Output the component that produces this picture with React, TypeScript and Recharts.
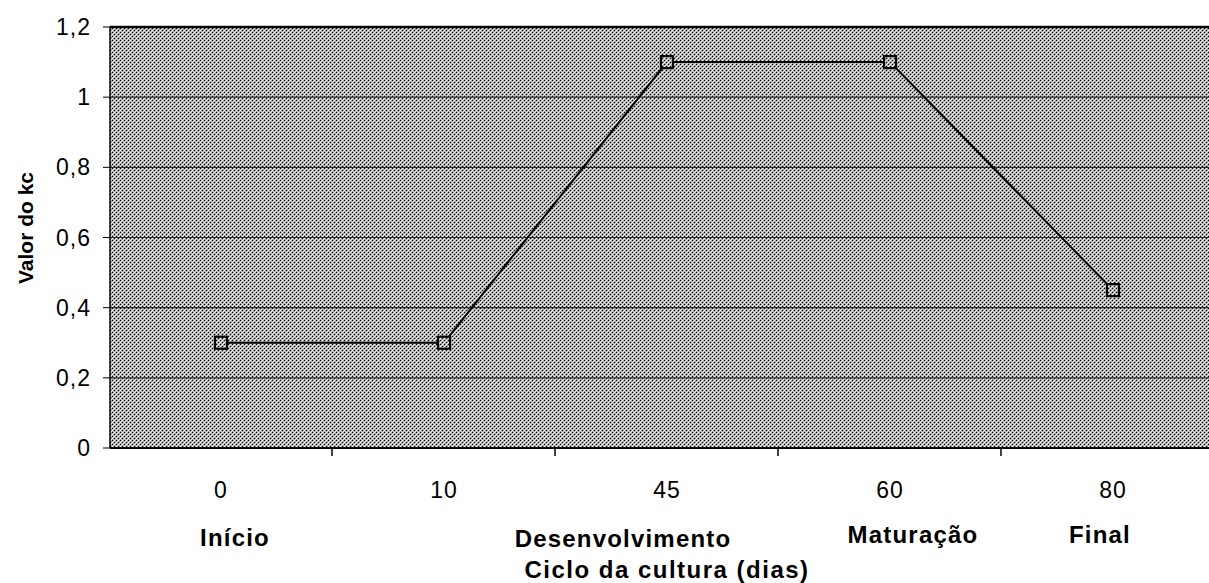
import React from "react"
import { LineChart, Line, XAxis, YAxis, CartesianGrid, ReferenceLine } from "recharts"

// Kc curve over the crop cycle
const days = ["0", "10", "45", "60", "80"]
const kc = [0.3, 0.3, 1.1, 1.1, 0.45]
const stages = ["Início", "", "Desenvolvimento", "Maturação", "Final"]
const yTicks = [0, 0.2, 0.4, 0.6, 0.8, 1, 1.2]

const data = days.map((d, i) => ({ day: d, kc: kc[i], stage: stages[i] }))

const FONT = "'Liberation Sans', Arial, sans-serif"

// half of the category step, used for the padding and the between-category ticks
const HALF_STEP = 111

// horizontal nudges for the stage captions under the day numbers
const stageShift = [14, 0, -44, 23, -13]
const stageDrop = [98, 98, 99, 95, 95]

function DayTick(props: any) {
  const { x, y, payload } = props
  const i = payload.index
  return (
    <g>
      <line x1={x + HALF_STEP} y1={y} x2={x + HALF_STEP} y2={y + 8} stroke="#000" strokeWidth={1.5} />
      <text x={x} y={y + 50} textAnchor="middle" fontSize={23} letterSpacing={1} fontFamily={FONT} fill="#000">
        {payload.value}
      </text>
      {stages[i] ? (
        <text
          x={x + stageShift[i]}
          y={y + stageDrop[i]}
          textAnchor="middle"
          fontSize={24}
          fontWeight="bold"
          letterSpacing={1.2}
          fontFamily={FONT}
          fill="#000"
        >
          {stages[i]}
        </text>
      ) : null}
    </g>
  )
}

function SquareDot(props: any) {
  const { cx, cy, index } = props
  if (cx == null || cy == null) return null
  return (
    <rect
      key={index}
      x={cx - 6}
      y={cy - 6}
      width={12}
      height={12}
      fill="url(#halftone)"
      stroke="#000"
      strokeWidth={2.2}
    />
  )
}

export default function App() {
  return (
    <div
      style={{
        position: "fixed",
        left: 0,
        top: 0,
        width: 1209,
        height: 583,
        overflow: "hidden",
        background: "#fff",
      }}
    >
      <LineChart width={1234} height={583} data={data} margin={{ top: 27, right: 10, bottom: 0, left: 0 }}>
        <defs>
          <pattern id="halftone" width="4" height="4" patternUnits="userSpaceOnUse">
            <rect x="0" y="0" width="4" height="4" fill="#a6a6a6" />
            <rect x="0" y="0" width="1" height="1" fill="#000" />
            <rect x="2" y="2" width="1" height="1" fill="#000" />
            <rect x="2" y="0" width="1" height="1" fill="#fff" />
            <rect x="0" y="2" width="1" height="1" fill="#fff" />
            <rect x="1" y="1" width="1" height="1" fill="#e6e6e6" />
            <rect x="3" y="3" width="1" height="1" fill="#e6e6e6" />
          </pattern>
        </defs>
        <CartesianGrid vertical={false} fill="url(#halftone)" stroke="#2a2a2a" strokeWidth={1.2} />
        <XAxis
          dataKey="day"
          height={135}
          padding={{ left: HALF_STEP, right: HALF_STEP }}
          tickSize={0}
          tickMargin={0}
          tickLine={false}
          axisLine={{ stroke: "#000", strokeWidth: 2 }}
          tick={<DayTick />}
          interval={0}
        />
        <YAxis
          width={110}
          domain={[0, 1.2]}
          ticks={yTicks}
          tickSize={7}
          tickMargin={12}
          tickFormatter={(v: number) => String(v).replace(".", ",")}
          tick={{ fontSize: 23, letterSpacing: 1, fontFamily: FONT, fill: "#000" }}
          tickLine={{ stroke: "#000" }}
          axisLine={{ stroke: "#000", strokeWidth: 1.5 }}
        />
        <ReferenceLine y={1.2} stroke="#000" strokeWidth={2.5} />
        <Line
          type="linear"
          dataKey="kc"
          stroke="#000"
          strokeWidth={2}
          dot={<SquareDot />}
          activeDot={false}
          isAnimationActive={false}
        />
        <text
          x={25}
          y={228}
          transform="rotate(-90 25 228)"
          textAnchor="middle"
          dominantBaseline="central"
          fontSize={21}
          fontWeight="bold"
          fontFamily={FONT}
          fill="#000"
        >
          Valor do kc
        </text>
        <text
          x={667}
          y={578}
          textAnchor="middle"
          fontSize={24}
          fontWeight="bold"
          letterSpacing={1.5}
          fontFamily={FONT}
          fill="#000"
        >
          Ciclo da cultura (dias)
        </text>
      </LineChart>
    </div>
  )
}
